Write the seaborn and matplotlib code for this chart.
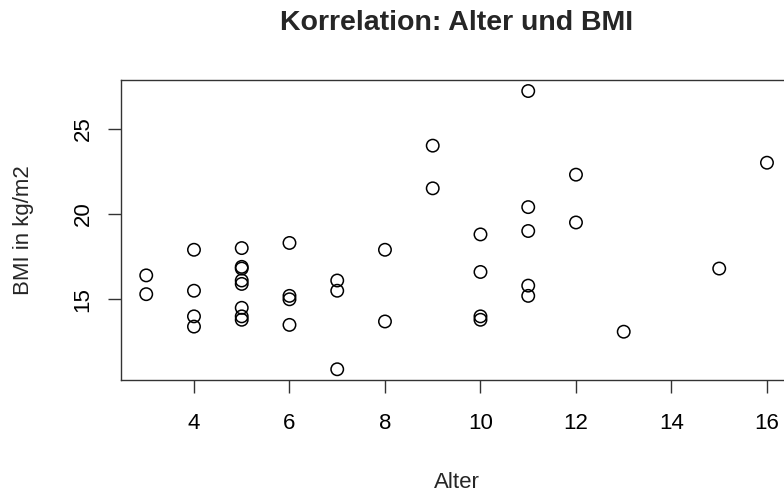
import matplotlib
matplotlib.use("Agg")
import matplotlib.pyplot as plt
import seaborn as sns
import pandas as pd

# Data
alter = [3, 3,
         4, 4, 4, 4,
         5, 5, 5, 5, 5, 5, 5, 5,
         6, 6, 6, 6,
         7, 7, 7,
         8, 8,
         9, 9,
         10, 10, 10, 10,
         11, 11, 11, 11, 11,
         12, 12,
         13, 15, 16]
bmi = [16.4, 15.3,
       17.9, 15.5, 14.0, 13.4,
       18.0, 16.9, 16.8, 16.1, 15.9, 14.5, 14.0, 13.8,
       18.3, 15.2, 15.0, 13.5,
       16.1, 15.5, 10.9,
       17.9, 13.7,
       24.0, 21.5,
       18.8, 16.6, 14.0, 13.8,
       27.2, 20.4, 19.0, 15.8, 15.2,
       22.3, 19.5,
       13.1, 16.8, 23.0]
x_ticks = [4, 6, 8, 10, 12, 14, 16]
y_ticks = [15, 20, 25]

df = pd.DataFrame({"Alter": alter, "BMI": bmi})

sns.set_theme(style="white")
plt.rcParams["font.family"] = ["Liberation Sans", "DejaVu Sans"]

W, H = 784, 496
L, R, T, B = 121.4, 791.8, 79.9, 380.4

fig = plt.figure(figsize=(W / 100, H / 100), dpi=100)
ax = fig.add_axes([L / W, (H - B) / H, (R - L) / W, (B - T) / H])

sns.scatterplot(data=df, x="Alter", y="BMI", ax=ax, marker="o", s=80,
                facecolor="none", edgecolor="black", linewidth=1.1)
for c in ax.collections:
    c.set_facecolor("none")
    c.set_edgecolor("black")

ax.set_xlim(2.48, 16.52)
ax.set_ylim(10.248, 27.852)
ax.set_xticks(x_ticks)
ax.set_yticks(y_ticks)
ax.set_xticklabels([str(t) for t in x_ticks], fontsize=16)
ax.set_yticklabels([str(t) for t in y_ticks], fontsize=16, rotation=90, va="center")
ax.tick_params(axis="both", direction="out", length=9.5, width=1, color="#333333",
               bottom=True, left=True, labelcolor="black")
ax.tick_params(axis="x", pad=14)
ax.tick_params(axis="y", pad=10.5)
for sp in ax.spines.values():
    sp.set_visible(True)
    sp.set_color("#333333")
    sp.set_linewidth(1.0)

ax.set_xlabel("Alter", fontsize=16, va="center")
ax.set_ylabel("BMI in kg/m2", fontsize=16, va="center")
ax.xaxis.set_label_coords(0.5, (B - 483) / (B - T))
ax.yaxis.set_label_coords((24 - L) / (R - L), 0.5)

fig.text((L + R) / 2 / W, 1 - 22.5 / H, "Korrelation: Alter und BMI", ha="center", va="center",
         fontsize=20.5, fontweight="bold")

fig.savefig("out.png", dpi=100)
